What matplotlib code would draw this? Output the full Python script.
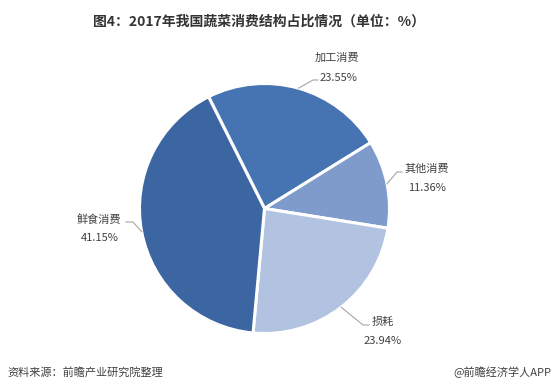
import numpy as np
import matplotlib
matplotlib.use("Agg")
import matplotlib.pyplot as plt

plt.rcParams['font.family'] = ['Noto Sans CJK SC', 'DejaVu Sans']

categories = ['加工消费', '其他消费', '损耗', '鲜食消费']
values = [23.55, 11.36, 23.94, 41.15]
pct_labels = ['23.55%', '11.36%', '23.94%', '41.15%']
colors = ['#4674B3', '#7E9BCB', '#B1C3E1', '#3C66A1']

title = '图4：2017年我国蔬菜消费结构占比情况（单位：%）'
source = '资料来源：前瞻产业研究院整理'
brand = '@前瞻经济学人APP'

W, H = 558, 390
fig = plt.figure(figsize=(W / 100, H / 100), dpi=100)
fig.patch.set_facecolor('white')

cx, cy, R = 264.5, 208.5, 125.0
ax = fig.add_axes([(cx - R) / W, (H - cy - R) / H, 2 * R / W, 2 * R / H])

wedges, _ = ax.pie(values, colors=colors, startangle=116.6, counterclock=False,
                   radius=1.0, wedgeprops=dict(edgecolor='white', linewidth=2.2))
ax.set_xlim(-1, 1)
ax.set_ylim(-1, 1)
ax.set_aspect('equal')
ax.axis('off')

def px(x, y):
    return ((x - cx) / R, (cy - y) / R)

# label layout (pixel positions): name center, pct center, leader elbow, leader end
layout = [
    dict(name=(337, 58), pct=(338, 78), elbow=(313, 80), end=(318, 80)),
    dict(name=(427, 169), pct=(427, 188), elbow=(397, 172), end=(402, 172)),
    dict(name=(383, 322), pct=(383, 341), elbow=(363, 325), end=(369, 325)),
    dict(name=(99, 220), pct=(100, 238), elbow=(133, 222), end=(126, 222)),
]

for w, cat, pl, lay in zip(wedges, categories, pct_labels, layout):
    mid = np.deg2rad((w.theta1 + w.theta2) / 2)
    ex, ey = np.cos(mid), np.sin(mid)
    bx, by = px(*lay['elbow'])
    dx, dy = px(*lay['end'])
    ax.plot([ex, bx, dx], [ey, by, dy], color='#A6A6A6', lw=0.8, clip_on=False, zorder=5)
    nx, ny = px(*lay['name'])
    qx, qy = px(*lay['pct'])
    ax.text(nx, ny, cat, ha='center', va='center', fontsize=8, color='#404040', clip_on=False)
    ax.text(qx, qy, pl, ha='center', va='center', fontsize=8, color='#404040', clip_on=False)

fig.text(259 / W, 1 - 22 / H, title, ha='center', va='center', fontsize=10,
         fontweight='bold', color='#333333')
fig.text(7 / W, 1 - 372 / H, source, ha='left', va='center', fontsize=8,
         style='italic', color='#404040')
fig.text(551 / W, 1 - 372 / H, brand, ha='right', va='center', fontsize=8,
         color='#404040')

fig.savefig('out.png', dpi=100, facecolor='white')
